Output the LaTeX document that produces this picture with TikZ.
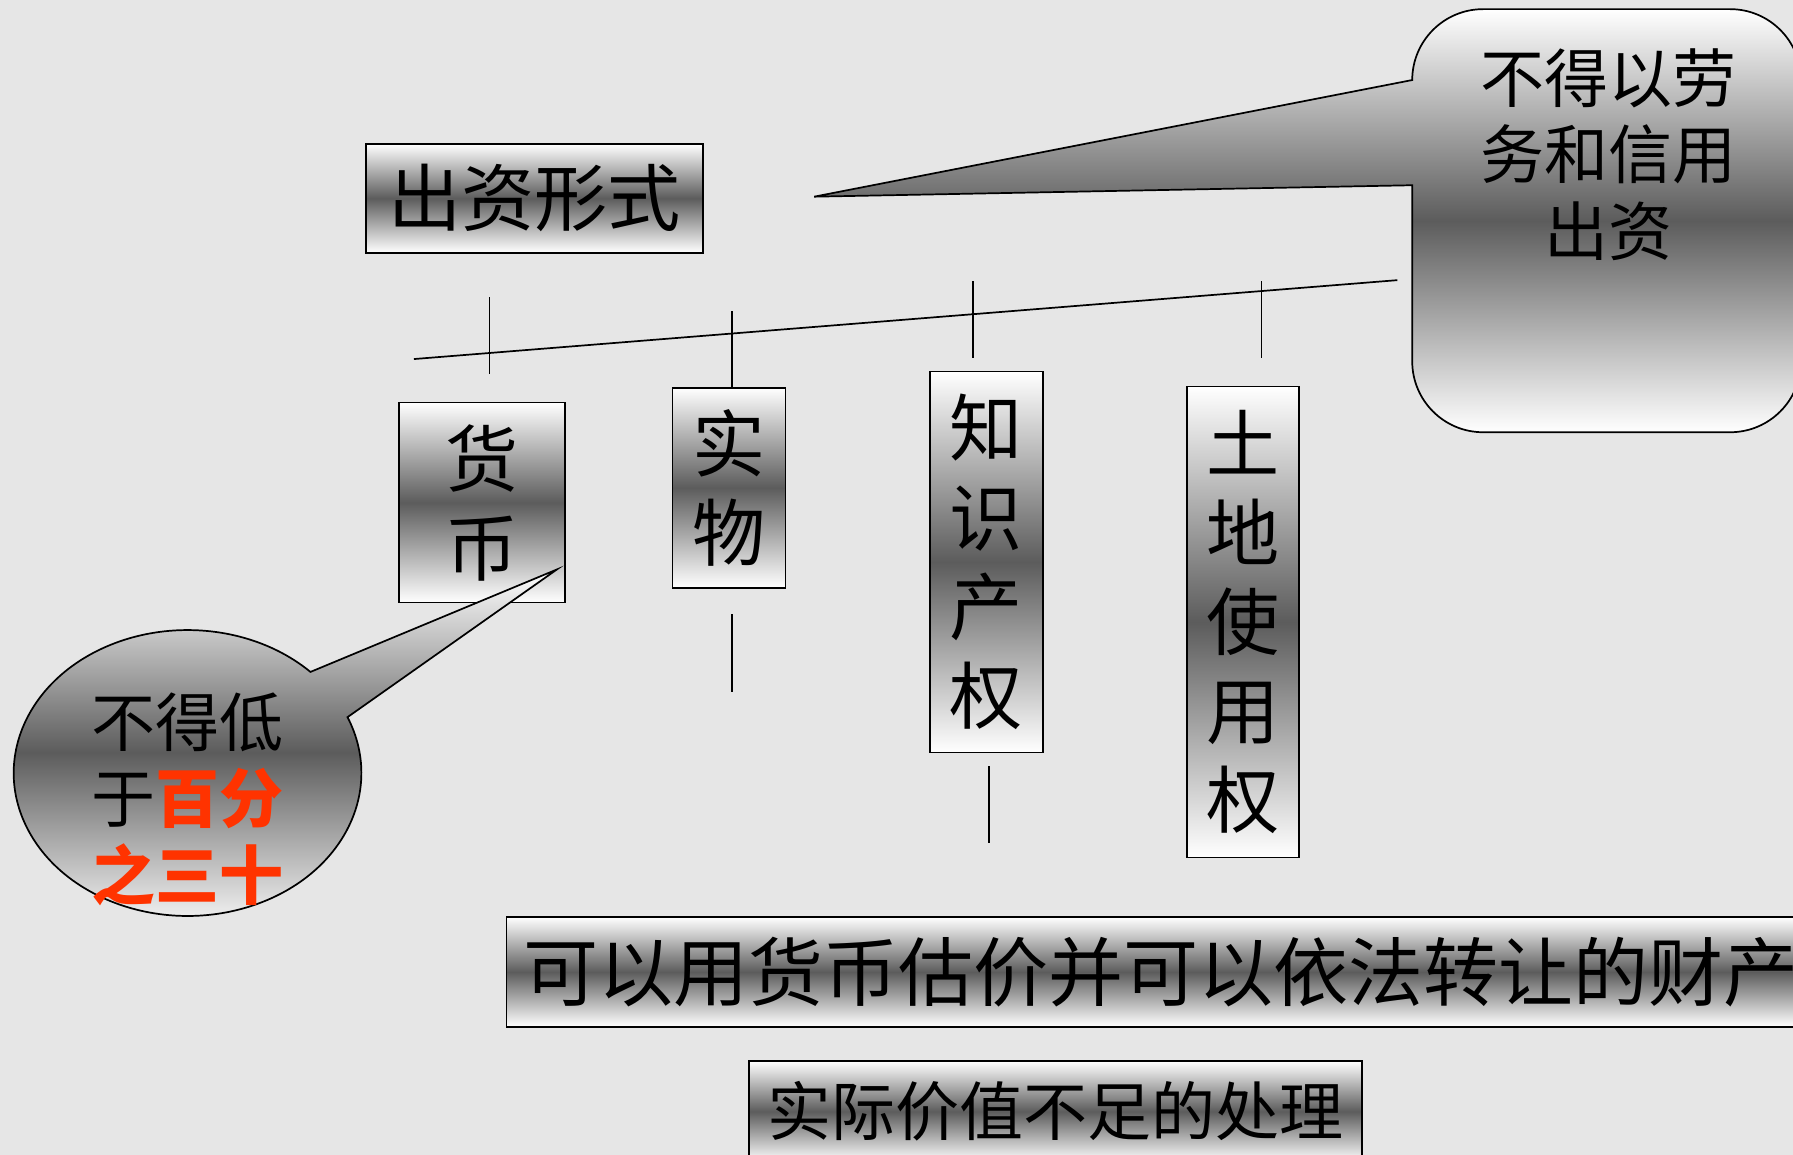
\documentclass[tikz,border=0pt]{standalone}
\usepackage{fontspec}
\setmainfont{Noto Sans CJK SC}
\usetikzlibrary{calc}
\definecolor{bg}{RGB}{230,230,230}
\definecolor{dk}{RGB}{92,92,92}
\definecolor{rd}{RGB}{255,51,0}
\begin{document}
\begin{tikzpicture}[x=0.5pt,y=-0.5pt,
  grad/.style={top color=white,bottom color=white,middle color=dk},
  box/.style={draw=black,line width=0.75pt,grad,inner sep=0pt,align=center,
    font=\fontsize{32}{39}\selectfont},
  tick/.style={line width=0.6pt},
  outl/.style={draw=black,line width=0.75pt,grad}]
\useasboundingbox (0,0) rectangle (1568,1010);
\clip (0,0) rectangle (1568,1010);
\fill[bg] (0,0) rectangle (1568,1010);

% right callout
\path[outl] (1235,70) arc[start angle=180,end angle=90,radius=31pt]
  -- (1513,8) arc[start angle=90,end angle=0,radius=31pt]
  -- (1575,316) arc[start angle=0,end angle=-90,radius=31pt]
  -- (1297,378) arc[start angle=270,end angle=180,radius=31pt]
  -- (1235,162) -- (712,172) -- cycle;
\node[align=center,font=\fontsize{28}{33.5}\selectfont] (c1) at (1407,135)
  {不得以劳\\务和信用\\出资};

% boxes
\node[box,minimum width=147.5pt,minimum height=47.5pt] (form) at (467.5,173.5) {出资形式};
\node[box,minimum width=72.5pt,minimum height=87.5pt] (money) at (421.5,439.5) {货\\币};
\node[box,minimum width=49.5pt,minimum height=87.5pt] (goods) at (637.5,426.5) {实\\物};
\node[box,minimum width=49.5pt,minimum height=166.5pt] (ip) at (862.5,491.5) {知\\识\\产\\权};
\node[box,minimum width=49pt,minimum height=206pt] (land) at (1087,544) {土\\地\\使\\用\\权};
\node[box,minimum width=578.5pt,minimum height=48pt,text width=563.5pt,align=left,
  inner xsep=7.5pt,font=\fontsize{32.8}{39}\selectfont] (prop) at (1021.5,850)
  {可以用货币估价并可以依法转让的财产};
\node[box,minimum width=268pt,minimum height=44pt,font=\fontsize{28}{34}\selectfont]
  (deal) at (923,972) {实际价值不足的处理};

% connector lines
\coordinate (la) at (362,314);
\coordinate (lb) at (1222,245);
\draw[line width=0.75pt] (la) -- (lb);
\coordinate (t1a) at (428,260); \coordinate (t1b) at (428,327);
\coordinate (t2a) at (640,272); \coordinate (t2b) at (640,340);
\coordinate (t3a) at (851,246); \coordinate (t3b) at (851,313);
\coordinate (t4a) at (1103,246); \coordinate (t4b) at (1103,313);
\coordinate (t5a) at (640,537); \coordinate (t5b) at (640,605);
\coordinate (t6a) at (865,670); \coordinate (t6b) at (865,737);
\foreach \i in {1,...,6} {\draw[tick] (t\i a) -- (t\i b);}

% left ellipse callout
\coordinate (ec) at (164,676);
\coordinate (tip) at (487,498);
\path[outl] (tip) -- ($(ec)+(23:76pt and 62.5pt)$)
  arc[start angle=23,end angle=-315,x radius=76pt,y radius=62.5pt] -- cycle;
\node[align=left,font=\fontsize{28}{33.5}\selectfont] (c2) at (164,699)
  {不得低\\于{\bfseries\color{rd}百分}\\{\bfseries\color{rd}之三十}};
\end{tikzpicture}
\end{document}
